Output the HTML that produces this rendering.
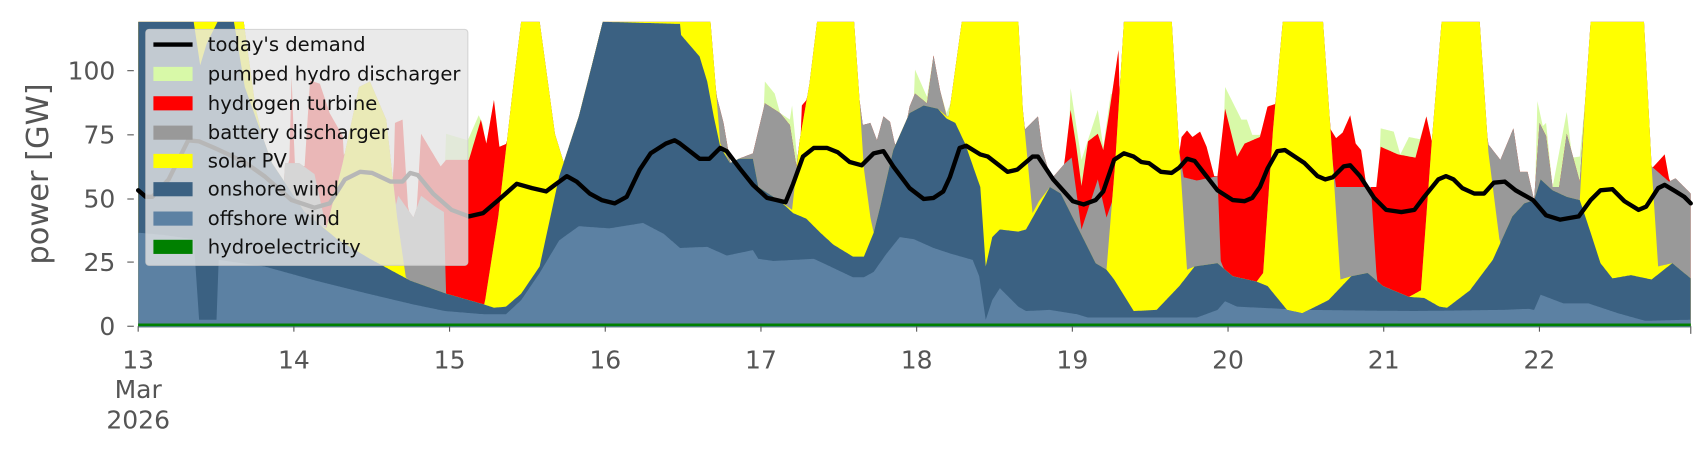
<!DOCTYPE html>
<html><head><meta charset="utf-8"><style>
html,body{margin:0;padding:0;background:#fff;}
svg{display:block;font-family:"DejaVu Sans","Liberation Sans",sans-serif;}
</style></head><body>
<svg id="s" width="1706" height="460" viewBox="0 0 1568 423" preserveAspectRatio="none" xmlns="http://www.w3.org/2000/svg">
<defs><clipPath id="c"><rect x="127" y="20" width="1427" height="281"/></clipPath></defs>
<g id="layers" clip-path="url(#c)"></g>
<rect x="127" y="297.5" width="1427" height="2.5" fill="#008000"/>
<g id="ticks" stroke="#555" stroke-width="1"></g>
<g fill="#555" font-size="23" text-anchor="end">
<text x="106" y="308">0</text><text x="106" y="249">25</text><text x="106" y="191">50</text><text x="106" y="132">75</text><text x="106" y="73">100</text>
</g>
<g stroke="#555"><line x1="117" y1="300" x2="123" y2="300"/><line x1="117" y1="241" x2="123" y2="241"/><line x1="117" y1="183" x2="123" y2="183"/><line x1="117" y1="124" x2="123" y2="124"/><line x1="117" y1="65" x2="123" y2="65"/></g>
<text transform="translate(44,160) rotate(-90)" fill="#555" font-size="28" text-anchor="middle">power [GW]</text>
<g id="xl" fill="#555" font-size="23" text-anchor="middle">
<text x="127" y="339">13</text><text x="127" y="366">Mar</text><text x="127" y="394">2026</text>
</g>
<polyline id="dem" fill="none" stroke="#000" stroke-width="4" stroke-linejoin="round" stroke-linecap="round"/>
<g>
<rect x="134" y="27" width="296" height="217" rx="3" fill="#e5e5e5" fill-opacity="0.8" stroke="#ccc" stroke-opacity="0.8"/>
<line x1="141" y1="41" x2="177" y2="41" stroke="#000" stroke-width="4"/>
<rect x="141" y="61.5" width="36" height="13" fill="#d8f9a8"/>
<rect x="141" y="88.5" width="36" height="13" fill="#ff0000"/>
<rect x="141" y="115.5" width="36" height="13" fill="#999999"/>
<rect x="141" y="141.5" width="36" height="13" fill="#ffff00"/>
<rect x="141" y="167.5" width="36" height="13" fill="#3b6182"/>
<rect x="141" y="194.5" width="36" height="13" fill="#5c81a3"/>
<rect x="141" y="220.5" width="36" height="13" fill="#008000"/>
<g font-size="18" fill="#111">
<text x="191" y="47">today's demand</text>
<text x="191" y="74">pumped hydro discharger</text>
<text x="191" y="101">hydrogen turbine</text>
<text x="191" y="128">battery discharger</text>
<text x="191" y="154">solar PV</text>
<text x="191" y="180">onshore wind</text>
<text x="191" y="207">offshore wind</text>
<text x="191" y="233">hydroelectricity</text>
</g></g>
</svg>
<script>
var X0=127,X1=1554;
function interp(pts,x){for(var i=0;i<pts.length-1;i++){if(x>=pts[i][0]&&x<=pts[i+1][0]){var a=pts[i],b=pts[i+1];if(b[0]==a[0])return Math.min(a[1],b[1]);return a[1]+(b[1]-a[1])*(x-a[0])/(b[0]-a[0]);}}return null;}
function full(pts){var r=[];for(var x=X0;x<=X1;x++){var v=interp(pts,x);r.push(v==null?300:v);}return r;}
function over(lower,segs){var r=lower.slice();segs.forEach(function(s){for(var x=s[0][0];x<=s[s.length-1][0];x++){var i=x-X0;if(i<0||i>=r.length)continue;var v=interp(s,x);if(v!=null)r[i]=Math.min(v,lower[i]);}});return r;}
function P(s){return s.trim().split(/\s+/).map(function(p){return p.split(',').map(Number);});}
var off=full(P("127,214 150,216 178,220 183,294 199,294 201,239 243,245 290,258 338,270 380,280 409,286 445,289 465,289 479,276 496,251 514,221 532,208 560,210 591,205 610,215 625,228 650,227 668,235 692,230 697,238 711,240 748,238 763,245 784,255 794,255 803,250 815,233 827,218 840,220 858,228 873,233 894,239 900,254 906,294 912,276 919,265 936,282 943,286 965,285 990,289 1000,292 1100,292 1119,285 1126,277 1137,282 1200,285 1300,286 1380,285 1405,284 1410,285 1416,271 1437,279 1460,279 1487,288 1512,295 1554,294"));
var on=full(P("127,20 178,20 184,60 190,40 200,20 215,20 225,80 250,150 280,195 310,220 340,238 377,258 410,270 445,280 454,283 465,282 479,270 496,245 514,162 532,107 544,60 554,20 625,22 625,31 643,52 650,75 656,107 662,135 671,150 679,146 692,146 697,172 717,185 729,196 741,201 754,214 766,225 784,236 794,236 803,214 809,190 821,138 836,104 849,97 862,100 870,109 878,113 887,132 901,172 906,245 912,218 919,211 936,213 943,211 965,172 975,178 993,214 1007,242 1017,248 1024,257 1042,286 1063,285 1084,263 1098,245 1119,242 1133,254 1155,259 1165,263 1183,285 1197,288 1221,276 1242,254 1257,251 1271,263 1295,273 1309,274 1323,282 1330,283 1351,267 1372,239 1390,199 1401,187 1410,184 1416,165 1427,175 1440,181 1452,184 1462,214 1471,242 1482,256 1499,253 1518,257 1537,242 1554,256"));
var sol=full(P("127,20 224,20 235,100 250,160 265,200 280,200 300,210 315,150 330,80 340,75 355,110 365,200 373,255 380,262 410,272 445,282 458,199 472,77 479,20 496,20 510,123 521,159 532,107 544,60 554,20 653,20 662,132 671,150 679,146 692,146 697,172 717,185 728,193 735,129 744,77 751,20 785,20 790,92 794,155 800,200 803,214 809,190 821,138 836,104 849,97 862,100 870,107 872,107 884,20 936,20 940,100 949,196 955,185 965,172 975,178 993,214 1007,242 1017,248 1025,150 1033,20 1077,20 1084,140 1091,248 1098,245 1119,242 1133,254 1155,259 1161,251 1170,120 1179,20 1216,20 1225,150 1232,257 1242,254 1257,251 1271,263 1295,273 1306,267 1316,130 1325,20 1360,20 1368,140 1379,227 1390,199 1401,187 1410,184 1416,165 1427,175 1440,181 1452,184 1457,92 1462,20 1511,20 1518,153 1524,245 1537,242 1554,256"));
for(var i=0;i<sol.length;i++){on[i]=Math.max(on[i],20);sol[i]=Math.min(sol[i],on[i]);off[i]=Math.max(off[i],on[i]);}
var bat=over(sol,[P("262,150 275,150 289,160 300,210"),P("360,205 366,180 380,200 387,180 400,190 408,195 410,272"),P("655,300 656,78 665,113 671,148"),P("679,146 692,141 703,95 717,104 726,115 732,153 735,129"),P("788,300 790,92 793,115 800,113 806,129 812,107 818,112 823,135"),P("830,130 836,98 841,86 852,95 858,51 864,83 870,107 872,107"),P("938,300 940,100 942,119 954,107 958,137 966,165 979,150 985,145 994,211 1009,165 1017,200 1024,180 1028,300"),P("1082,300 1084,140 1088,163 1100,166 1119,162 1122,240 1126,250"),P("1222,300 1225,150 1228,172 1260,172 1265,250"),P("1362,300 1365,129 1379,147 1391,118 1397,158 1404,158 1410,184 1415,113 1421,125 1427,172 1433,172 1440,123 1446,145 1452,167 1457,92"),P("1516,300 1518,153 1534,167 1540,164 1554,178")]);
var h2=over(bat,[P("262,300 268,70 271,153 278,184 285,74 294,77 303,104 315,125 325,300"),P("358,300 363,113 370,110 375,190 380,245 387,123 405,153 410,147 431,147 442,110 447,132 454,92 459,135 466,132 470,120 471,300"),P("733,300 737,97 742,91 745,300"),P("976,300 979,144 984,101 989,133 994,171 1000,130 1009,123 1014,138 1019,107 1028,46 1030,300"),P("1079,300 1084,140 1086,126 1091,120 1096,126 1103,121 1109,135 1116,162 1119,162 1126,100 1137,144 1144,132 1158,126 1165,98 1174,95 1175,300"),P("1220,300 1223,119 1228,127 1234,122 1241,106 1246,132 1251,138 1256,172 1265,172 1269,135 1285,142 1301,145 1311,107 1316,130 1317,300"),P("1517,300 1520,153 1530,142 1534,164 1537,300")]);
var ph=over(h2,[P("405,300 410,123 430,129 440,106 444,115 450,300"),P("700,300 703,75 712,86 717,104 726,110 728,97 732,138 735,300"),P("836,300 841,64 852,89 858,51 864,83 870,104 876,89 879,300"),P("980,300 984,81 994,147 1009,101 1014,135 1021,86 1026,92 1028,46 1029,300"),P("1122,300 1126,80 1141,110 1146,110 1151,124 1162,124 1165,98 1166,300"),P("1265,300 1269,118 1281,121 1287,142 1295,126 1305,128 1311,107 1314,300"),P("1408,300 1413,93 1418,116 1421,113 1427,172 1440,103 1445,145 1452,144 1457,92")]);
function path(a){var d="M"+X0+",301";for(var i=0;i<a.length;i++)d+="L"+(X0+i)+","+a[i].toFixed(1);return d+"L"+X1+",301Z";}
var g=document.getElementById('layers'),ns="http://www.w3.org/2000/svg";
[[ph,"#d8f9a8"],[h2,"#ff0000"],[bat,"#999999"],[sol,"#ffff00"],[on,"#3b6182"],[off,"#5c81a3"]].forEach(function(l){var p=document.createElementNS(ns,"path");p.setAttribute("d",path(l[0]));p.setAttribute("fill",l[1]);g.appendChild(p);});
document.getElementById('dem').setAttribute('points',"127,175 134,181 140,181 155,165 173,129 183,130 197,136 210,142 226,150 243,162 268,184 289,191 303,187 317,165 331,158 342,159 359,167 370,167 377,159 384,161 398,178 415,193 431,199 444,196 458,184 475,169 489,173 502,176 510,170 521,162 530,167 542,178 553,184 565,187 576,181 588,156 598,141 612,132 620,129 625,132 643,146 652,146 662,136 668,139 680,155 692,170 705,182 714,184 722,186 729,169 738,144 748,136 760,136 770,140 781,149 792,152 803,141 812,139 821,153 836,173 849,183 858,182 867,176 873,163 882,136 888,134 901,142 908,144 926,158 935,156 949,144 954,144 968,165 986,185 996,188 1007,184 1014,176 1024,147 1033,141 1042,144 1049,149 1056,150 1067,158 1077,159 1084,154 1091,146 1098,148 1105,157 1119,175 1133,184 1144,185 1151,182 1158,172 1165,155 1174,139 1181,138 1190,144 1199,150 1211,162 1218,165 1225,163 1235,153 1241,152 1250,162 1263,182 1274,193 1288,195 1300,193 1309,181 1322,165 1329,162 1336,165 1344,173 1355,178 1364,178 1373,168 1383,167 1393,175 1409,184 1421,198 1434,202 1451,199 1462,184 1471,175 1482,174 1493,185 1506,193 1513,190 1524,173 1530,170 1540,176 1548,181 1554,187");
var t=document.getElementById('ticks'),xl=document.getElementById('xl');
for(var k=0;k<10;k++){var x=127+143.1*k;var l=document.createElementNS(ns,"line");l.setAttribute("x1",x);l.setAttribute("x2",x);l.setAttribute("y1",300);l.setAttribute("y2",305);t.appendChild(l);
if(k>0){var tx=document.createElementNS(ns,"text");tx.setAttribute("x",x);tx.setAttribute("y",339);tx.textContent=String(13+k);xl.appendChild(tx);}}
var l2=document.createElementNS(ns,"line");l2.setAttribute("x1",1554);l2.setAttribute("x2",1554);l2.setAttribute("y1",300);l2.setAttribute("y2",307);t.appendChild(l2);
</script>
</body></html>
